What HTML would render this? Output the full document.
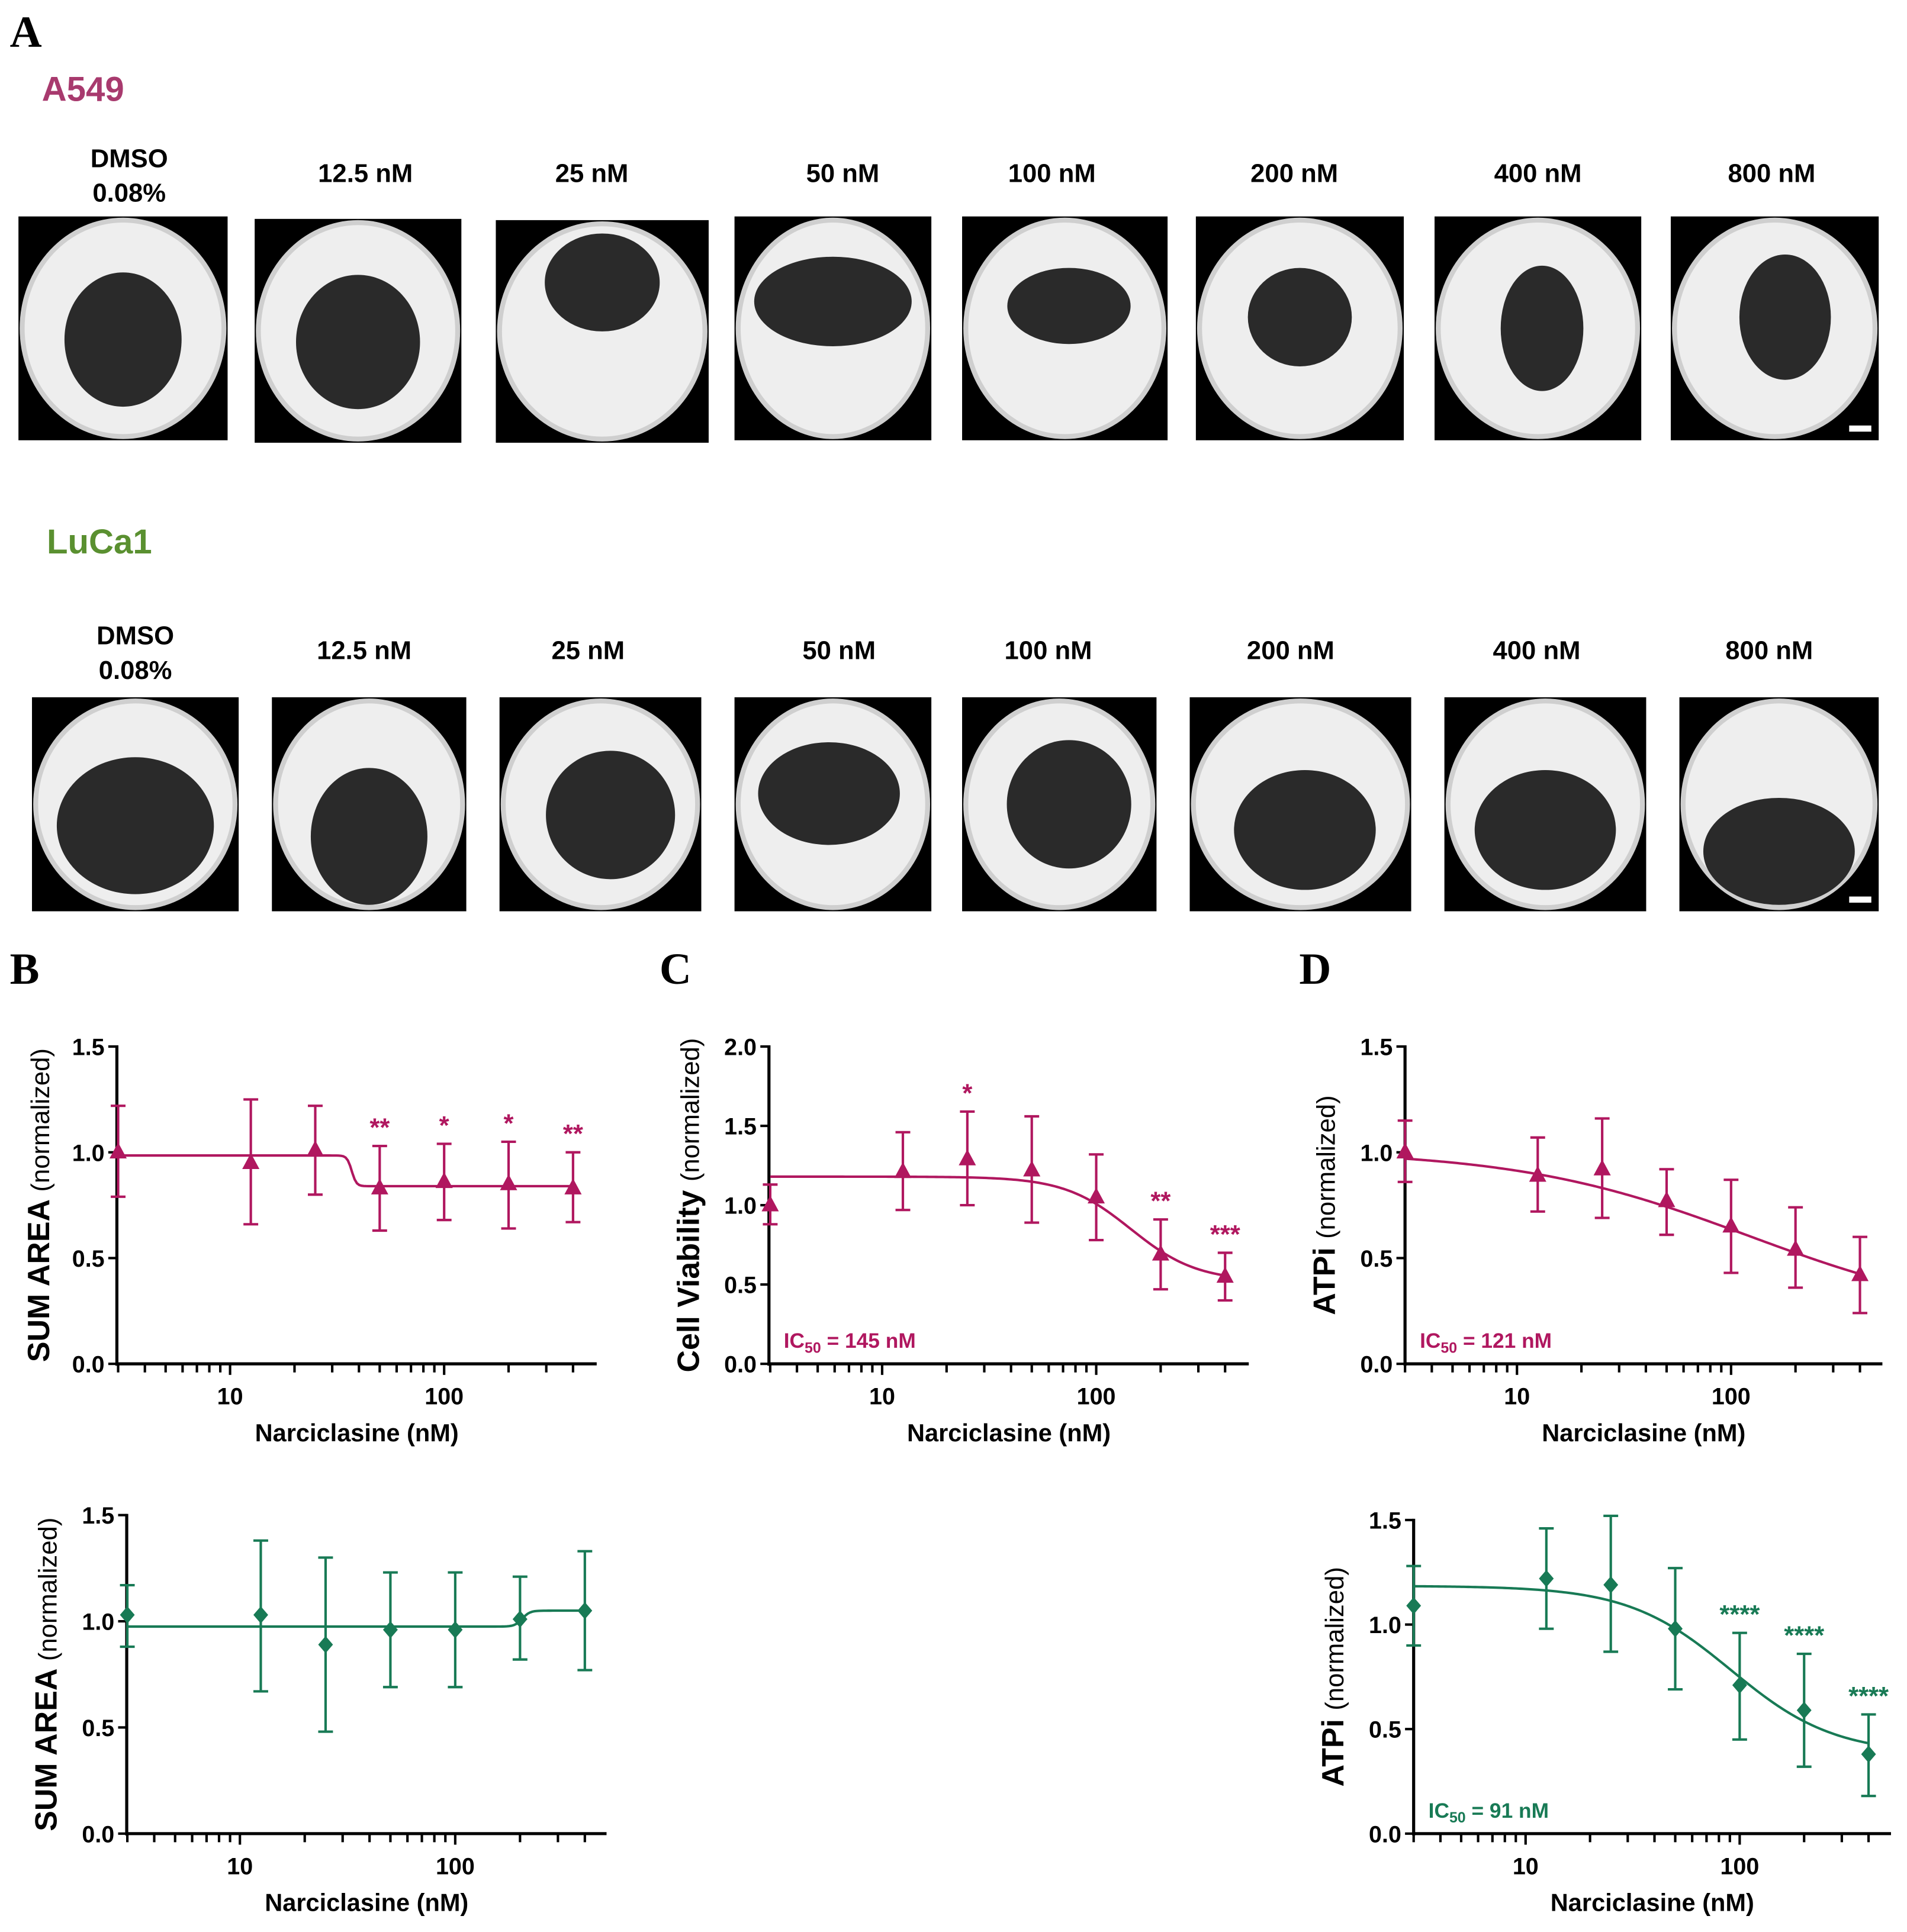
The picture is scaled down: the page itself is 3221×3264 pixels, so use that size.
<!DOCTYPE html>
<html><head><meta charset="utf-8"><style>
html,body{margin:0;padding:0;background:#fff;}
svg{display:block;font-family:"Liberation Sans",sans-serif;}
</style></head><body>
<svg id="fig" width="3221" height="3264" viewBox="0 0 1550 1571" preserveAspectRatio="none" xmlns="http://www.w3.org/2000/svg">
<text x="8" y="38" font-family="Liberation Serif,serif" font-weight="bold" font-size="36">A</text>
<text x="34" y="82" font-weight="bold" font-size="28" fill="#a83a6e">A549</text>
<text x="38" y="450" font-weight="bold" font-size="28" fill="#5a9030">LuCa1</text>
<text x="8" y="800" font-family="Liberation Serif,serif" font-weight="bold" font-size="36">B</text>
<text x="536" y="800" font-family="Liberation Serif,serif" font-weight="bold" font-size="36">C</text>
<text x="1056" y="800" font-family="Liberation Serif,serif" font-weight="bold" font-size="36">D</text>
<g id="imgs"></g>
<g id="charts"></g>
</svg>
<script>
const NS='http://www.w3.org/2000/svg';
const doses=[3,12.5,25,50,100,200,400];
const bTopMean=[1.0,0.95,1.01,0.83,0.86,0.85,0.83];
const bTopLo=[0.79,0.66,0.8,0.63,0.68,0.64,0.67];
const bTopHi=[1.22,1.25,1.22,1.03,1.04,1.05,1.0];
const bTopStars=['','','','**','*','*','**'];
const bBotMean=[1.03,1.03,0.89,0.96,0.96,1.01,1.05];
const bBotLo=[0.88,0.67,0.48,0.69,0.69,0.82,0.77];
const bBotHi=[1.17,1.38,1.3,1.23,1.23,1.21,1.33];
const cMean=[1.0,1.21,1.29,1.22,1.05,0.69,0.55];
const cLo=[0.88,0.97,1.0,0.89,0.78,0.47,0.4];
const cHi=[1.13,1.46,1.59,1.56,1.32,0.91,0.7];
const cStars=['','','*','','','**','***'];
const dTopMean=[1.0,0.89,0.92,0.77,0.65,0.54,0.42];
const dTopLo=[0.86,0.72,0.69,0.61,0.43,0.36,0.24];
const dTopHi=[1.15,1.07,1.16,0.92,0.87,0.74,0.6];
const dBotMean=[1.09,1.22,1.19,0.98,0.71,0.59,0.38];
const dBotLo=[0.9,0.98,0.87,0.69,0.45,0.32,0.18];
const dBotHi=[1.28,1.46,1.52,1.27,0.96,0.86,0.57];
const dBotStars=['','','','','****','****','****'];
const labels=['DMSO|0.08%','12.5 nM','25 nM','50 nM','100 nM','200 nM','400 nM','800 nM'];

function el(t,a,p){const e=document.createElementNS(NS,t);for(const k in a)e.setAttribute(k,a[k]);p.appendChild(e);return e;}
const imgs=document.getElementById('imgs');
const row1=[[15,176,185,358],[207,178,375,360],[403,179,576,360],[597,176,757,358],[782,176,949,358],[972,176,1141,358],[1166,176,1334,358],[1358,176,1527,358]];
const row2=[[26,567,194,741],[221,567,379,741],[406,567,570,741],[597,567,757,741],[782,567,940,741],[967,567,1147,741],[1174,567,1338,741],[1365,567,1527,741]];
const lab1=[105,297,481,685,855,1052,1250,1440], lab2=[110,296,478,682,852,1049,1249,1438];
const blob1=[[0.5,0.55,0.28,0.3],[0.5,0.55,0.3,0.3],[0.5,0.28,0.27,0.22],[0.5,0.38,0.4,0.2],[0.52,0.4,0.3,0.17],[0.5,0.45,0.25,0.22],[0.52,0.5,0.2,0.28],[0.55,0.45,0.22,0.28]];
const blob2=[[0.5,0.6,0.38,0.32],[0.5,0.65,0.3,0.32],[0.55,0.55,0.32,0.3],[0.48,0.45,0.36,0.24],[0.55,0.5,0.32,0.3],[0.52,0.62,0.32,0.28],[0.5,0.62,0.35,0.28],[0.5,0.72,0.38,0.25]];
function drawRow(row,lab,ly,blobs,r){
  row.forEach((b,i)=>{
    const g=el('g',{},imgs);
    
    
    const w=b[2]-b[0],h=b[3]-b[1];
    el('rect',{x:b[0],y:b[1],width:w,height:h,fill:'#000'},g);
    el('ellipse',{cx:b[0]+w/2,cy:b[1]+h/2,rx:w/2-1,ry:h/2-1,fill:'#cfcfcf'},g);
    el('ellipse',{cx:b[0]+w/2,cy:b[1]+h/2,rx:w/2-5,ry:h/2-5,fill:'#eeeeee'},g);
    const bl=blobs[i];
    el('ellipse',{cx:b[0]+w*bl[0],cy:b[1]+h*bl[1],rx:w*bl[2],ry:h*bl[3],fill:'#2a2a2a'},g);
    const t=el('text',{x:lab[i],'text-anchor':'middle','font-weight':'bold','font-size':'21'},imgs);
    
    
    const parts=labels[i].split('|');
    if(parts.length>1){el('tspan',{x:lab[i],y:ly-10},t).textContent=parts[0];el('tspan',{x:lab[i],y:ly+18},t).textContent=parts[1];}
    else{t.setAttribute('y',ly+2);t.textContent=parts[0];}
  });
  const sb=el('rect',{x:row[7][2]-24,y:row[7][3]-12,width:18,height:5,fill:'#fff'},imgs);
  
  
}
drawRow(row1,lab1,146,blob1,'a549');
drawRow(row2,lab2,534,blob2,'luca1');

const charts=document.getElementById('charts');
function chart(o){
  const g=el('g',{},charts);
  
  
  const X=v=>o.x10+(Math.log10(v)-1)*o.dec;
  const Y=v=>o.y0-(v/o.ymax)*(o.y0-o.ytop);
  const k='#000';
  el('line',{x1:o.ax,y1:o.ytop-1,x2:o.ax,y2:o.y0+1.5,stroke:k,'stroke-width':2.5},g);
  el('line',{x1:o.ax-1,y1:o.y0,x2:o.xend,y2:o.y0,stroke:k,'stroke-width':2.5},g);
  o.yt.forEach(v=>{el('line',{x1:o.ax-7,y1:Y(v),x2:o.ax,y2:Y(v),stroke:k,'stroke-width':2},g);
    const t=el('text',{x:o.ax-10,y:Y(v)+7,'text-anchor':'end','font-size':19,'font-weight':'bold'},g);t.textContent=v.toFixed(1);});
  [3,4,5,6,7,8,9,10,20,30,40,50,60,70,80,90,100,200,300,400].forEach(v=>{
    const L=(v===10||v===100)?9:7;
    el('line',{x1:X(v),y1:o.y0,x2:X(v),y2:o.y0+L,stroke:k,'stroke-width':2},g);});
  [10,100].forEach(v=>{const t=el('text',{x:X(v),y:o.y0+33,'text-anchor':'middle','font-size':19,'font-weight':'bold'},g);t.textContent=v;});
  const xt=el('text',{x:(o.ax+o.xend)/2,y:o.y0+63,'text-anchor':'middle','font-size':20,'font-weight':'bold'},g);
  
  
  xt.textContent='Narciclasine (nM)';
  const yc=(o.y0+o.ytop)/2;
  const yt=el('text',{x:0,y:0,'text-anchor':'middle',transform:`translate(${o.ylx},${yc}) rotate(-90)`,'font-size':21},g);
  
  
  el('tspan',{'font-weight':'bold','font-size':25},yt).textContent=o.ylab+' ';
  el('tspan',{},yt).textContent='(normalized)';
  let d='';
  for(let i=0;i<=200;i++){const lx=Math.log10(3)+i/200*(Math.log10(400)-Math.log10(3));const v=Math.pow(10,lx);
    const y=o.bot+(o.top-o.bot)/(1+Math.pow(v/o.ic,o.hill));d+=(i?'L':'M')+X(v).toFixed(2)+' '+Y(y).toFixed(2);}
  const c=el('path',{d:d,fill:'none',stroke:o.col,'stroke-width':2},g);
  
  
  doses.forEach((x,i)=>{
    const px=X(x);
    const e=el('path',{d:`M${px} ${Y(o.lo[i])}V${Y(o.hi[i])}M${px-6} ${Y(o.lo[i])}h12M${px-6} ${Y(o.hi[i])}h12`,stroke:o.col,'stroke-width':2,fill:'none'},g);
    
    
    const py=Y(o.mean[i]);
    const m=el('path',{d:o.tri?`M${px} ${py-8}L${px+7} ${py+5}L${px-7} ${py+5}Z`:`M${px} ${py-7}L${px+6} ${py}L${px} ${py+7}L${px-6} ${py}Z`,fill:o.col},g);
    
    
    if(o.stars&&o.stars[i]){const s=el('text',{x:px,y:Y(o.hi[i])-8,'text-anchor':'middle','font-size':21,'font-weight':'bold',fill:o.col},g);
      
      
      s.textContent=o.stars[i];}
  });
  if(o.icTxt){const t=el('text',{x:o.ax+12,y:o.y0-13,'font-size':17,'font-weight':'bold',fill:o.col},g);
    
    
    el('tspan',{},t).textContent='IC';el('tspan',{'font-size':12,dy:4},t).textContent='50';el('tspan',{dy:-4},t).textContent=' = '+o.icTxt;}
}
const mag='#b0175f',grn='#187a55';
chart({name:'chart-b-a549',ax:95,xend:485,x10:187,dec:174,y0:1109,ytop:851,ymax:1.5,yt:[0,0.5,1,1.5],ylx:40,ylab:'SUM AREA',col:mag,tri:true,mean:bTopMean,lo:bTopLo,hi:bTopHi,stars:bTopStars,top:0.985,bot:0.84,ic:37,hill:40});
chart({name:'chart-b-luca1',ax:103,xend:493,x10:195,dec:175,y0:1491,ytop:1232,ymax:1.5,yt:[0,0.5,1,1.5],ylx:46,ylab:'SUM AREA',col:grn,tri:false,mean:bBotMean,lo:bBotLo,hi:bBotHi,top:0.975,bot:1.05,ic:205,hill:25});
chart({name:'chart-c-a549',ax:625,xend:1015,x10:717,dec:174,y0:1109,ytop:851,ymax:2.0,yt:[0,0.5,1,1.5,2],ylx:568,ylab:'Cell Viability',col:mag,tri:true,mean:cMean,lo:cLo,hi:cHi,stars:cStars,top:1.18,bot:0.52,ic:145,hill:2.8,icTxt:'145 nM'});
chart({name:'chart-d-a549',ax:1142,xend:1530,x10:1233,dec:174,y0:1109,ytop:851,ymax:1.5,yt:[0,0.5,1,1.5],ylx:1085,ylab:'ATPi',col:mag,tri:true,mean:dTopMean,lo:dTopLo,hi:dTopHi,top:1.01,bot:0.2,ic:121,hill:0.8,icTxt:'121 nM'});
chart({name:'chart-d-luca1',ax:1149,xend:1537,x10:1240,dec:174,y0:1491,ytop:1236,ymax:1.5,yt:[0,0.5,1,1.5],ylx:1092,ylab:'ATPi',col:grn,tri:false,mean:dBotMean,lo:dBotLo,hi:dBotHi,stars:dBotStars,top:1.185,bot:0.38,ic:91,hill:1.8,icTxt:'91 nM'});
</script>
</body></html>
